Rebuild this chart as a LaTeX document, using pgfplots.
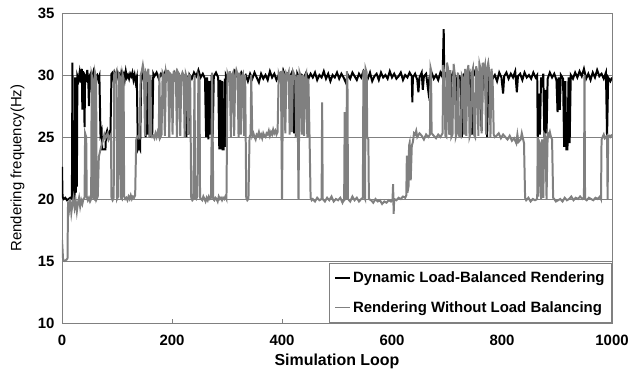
\documentclass[border=0pt]{standalone}
\usepackage{pgfplots}
\usepackage{pgfplotstable}
\pgfplotsset{compat=1.18}
\usepackage{fontspec}
\setmainfont{Liberation Sans}
\definecolor{lgray}{RGB}{128,128,128}
\definecolor{axgray}{RGB}{128,128,128}

\pgfplotstableread{
x y
0 22.6
1 20.2
3 20.0
6 20.1
9 19.9
12 20.0
15 20.1
18 20.0
19 31.0
20 20.3
22 20.0
23 20.4
24 29.8
25 20.5
26 29.5
27 21.0
28 29.9
30 29.6
32 30.2
34 29.4
36 30.5
37 27.2
38 30.3
40 29.5
41 25.8
42 29.9
44 29.7
46 30.4
48 29.2
49 27.5
50 29.9
52 30.1
54 28.6
55 29.8
57 30.2
59 29.5
61 28.2
62 29.9
64 30.0
66 29.6
68 29.9
70 25.2
72 25.5
73 24.0
79 24.0
80 25.2
82 25.5
84 25.0
86 25.3
88 25.0
90 30.1
92 30.2
94 29.6
96 30.1
98 29.7
100 30.2
102 29.8
104 30.0
106 29.5
108 30.2
110 29.9
112 30.1
114 29.6
116 30.3
118 29.8
120 30.0
122 29.7
124 30.1
126 29.9
128 30.2
130 29.6
132 30.0
134 29.4
136 29.8
138 24.0
140 24.2
142 24.0
144 29.9
146 30.1
148 29.7
150 30.2
152 25.0
154 29.8
156 25.2
158 30.0
160 25.0
162 29.6
164 25.1
166 30.1
168 29.9
172 30.2
176 29.7
180 30.1
184 29.8
188 30.3
192 29.9
196 30.0
200 29.6
204 30.2
208 29.8
212 30.1
216 29.7
220 30.0
224 29.8
226 25.0
228 29.9
230 25.2
232 30.0
236 29.7
240 30.2
244 29.9
248 30.4
252 29.8
256 30.1
260 29.7
262 25.0
264 29.8
266 24.8
268 29.5
270 25.2
272 30.0
274 25.0
276 29.9
280 30.2
284 29.8
286 24.0
288 29.6
289 24.0
291 29.5
292 24.0
294 24.0
296 29.7
297 24.2
298 30.0
302 29.6
306 30.1
310 29.8
314 30.3
318 29.9
322 29.7
326 30.2
330 29.8
334 30.0
338 29.5
342 30.1
346 29.7
350 30.2
354 29.8
358 29.4
362 30.1
366 29.7
370 30.0
374 29.6
378 30.3
382 29.8
386 30.1
390 29.6
394 30.0
398 29.7
402 30.4
406 29.9
410 30.1
414 29.8
418 30.2
420 29.9
422 25.3
424 30.0
425 25.3
427 25.5
428 30.1
432 29.7
436 30.0
440 29.8
444 30.2
448 29.7
452 30.1
456 29.8
460 30.2
464 29.6
468 30.0
472 29.8
476 30.3
480 29.7
484 30.1
488 29.5
492 30.0
496 29.8
500 30.2
504 29.7
508 30.1
512 29.8
516 29.4
520 30.0
524 29.7
528 30.2
532 29.9
536 29.6
540 30.1
544 29.8
548 30.3
552 29.9
556 29.7
560 30.2
564 29.5
568 29.9
572 30.1
576 29.6
580 30.2
584 29.8
588 30.0
592 29.7
596 30.3
600 29.8
604 30.1
608 29.7
612 29.9
616 30.2
620 29.6
624 30.0
628 29.8
632 30.2
636 29.9
637 27.8
638 29.8
642 30.1
646 29.6
648 28.6
650 29.8
654 30.2
656 28.8
658 29.9
662 30.1
666 28.7
668 29.8
672 30.2
676 29.7
680 30.0
684 29.6
688 30.2
692 29.8
694 33.7
695 29.9
698 30.1
700 29.5
702 30.2
704 29.8
706 25.2
708 29.9
712 30.3
716 29.7
718 25.3
720 30.0
724 29.8
727 25.0
729 29.9
733 30.2
737 29.6
741 30.1
745 25.2
747 29.8
751 30.3
755 29.9
759 30.1
763 25.5
765 29.7
769 30.2
773 25.0
775 29.9
779 30.1
783 29.7
787 30.0
791 29.5
795 30.2
799 29.8
802 28.5
804 29.9
808 30.2
812 29.7
816 30.1
820 29.8
824 30.3
827 28.6
829 29.9
833 30.1
837 29.6
841 30.2
845 29.8
849 30.0
853 29.7
857 30.2
861 29.8
864 30.0
865 25.0
867 28.5
869 25.2
871 29.8
873 29.0
875 30.1
877 25.0
879 28.8
881 25.3
883 29.7
887 30.2
891 29.8
895 30.1
899 29.6
901 27.0
903 29.8
905 27.2
907 30.0
911 29.7
913 24.2
915 29.5
917 24.0
919 24.0
921 29.8
923 24.5
925 30.0
929 29.7
933 30.2
937 29.8
941 30.3
945 29.9
949 30.5
953 29.7
957 30.1
961 29.6
965 30.2
969 29.8
973 30.4
977 29.9
981 30.1
985 29.7
989 30.2
991 25.0
993 29.8
997 29.5
1000 29.8
}\dynamic

\pgfplotstableread{
x y
0 16.7
2 15.1
5 15.0
8 15.1
10 15.2
11 19.8
13 19.2
15 20.0
17 18.9
19 19.6
21 20.1
23 19.3
25 19.8
27 19.0
29 19.7
31 20.1
33 19.4
35 19.9
37 19.6
39 20.0
41 20.1
42 25.3
44 25.0
45 20.2
47 19.9
49 20.1
51 19.8
53 20.0
54 30.0
56 29.6
57 20.1
59 20.0
60 30.2
62 29.8
63 20.0
65 20.2
67 23.4
69 23.8
71 24.2
73 24.5
75 24.8
77 25.2
79 24.9
81 25.1
83 25.3
85 24.8
87 25.0
89 25.2
90 20.1
92 19.9
94 20.1
95 30.1
97 29.9
99 30.2
100 20.0
102 20.2
104 30.0
106 29.8
107 20.1
109 20.0
110 30.1
112 29.7
113 20.2
115 20.0
117 20.1
119 19.9
121 20.2
123 20.0
125 20.3
127 20.0
129 20.2
131 20.1
133 20.3
135 24.8
137 25.0
139 25.1
141 25.0
143 30.0
145 30.3
147 30.8
149 30.2
151 25.1
153 30.1
155 29.8
157 30.5
159 25.0
161 30.0
162 25.2
164 25.0
166 25.1
168 24.9
170 25.3
172 25.0
174 25.4
176 25.1
177 30.1
179 25.0
181 25.2
183 30.2
185 30.0
187 25.1
189 30.3
191 29.9
193 30.4
195 25.0
197 30.1
199 30.0
201 25.2
203 30.3
205 29.8
207 30.1
209 25.0
211 30.2
213 30.0
215 25.1
217 29.9
219 30.2
221 30.0
223 25.0
225 30.1
227 29.8
229 25.2
231 30.0
233 29.9
235 20.1
237 19.9
239 20.0
241 30.0
242 20.1
244 20.0
246 20.2
248 29.9
250 29.6
251 20.1
253 20.0
255 19.9
257 20.2
259 20.0
261 19.8
263 20.1
265 19.9
267 20.2
269 20.0
271 20.1
273 30.2
275 20.0
277 19.9
279 20.1
281 20.0
283 19.8
285 20.2
287 20.0
289 20.1
291 19.9
293 20.1
295 20.0
297 20.2
299 20.0
301 30.1
303 29.8
305 30.3
307 25.0
309 30.0
311 30.2
313 25.1
315 29.9
317 30.4
319 30.1
321 25.0
323 30.2
325 25.2
327 29.9
329 30.1
331 25.1
333 30.0
335 20.1
337 19.9
339 20.0
341 25.0
343 25.2
344 30.0
346 25.1
348 25.3
350 25.0
352 24.8
354 25.2
356 25.1
358 25.4
360 25.0
362 25.2
364 24.9
366 25.3
368 25.1
370 25.0
372 25.3
374 25.2
376 25.5
378 25.1
380 25.4
382 25.2
384 25.6
386 25.3
388 25.5
390 25.2
392 25.4
394 30.1
396 29.8
398 30.3
400 20.0
402 30.2
404 30.0
406 25.3
408 30.1
410 29.9
412 30.2
414 25.2
416 30.0
418 25.4
420 30.3
422 30.1
424 29.8
426 25.0
428 30.0
430 20.0
432 30.2
434 29.9
436 25.2
438 30.0
440 25.1
442 29.8
444 30.1
446 25.0
448 29.7
450 25.2
452 20.1
454 19.9
456 20.0
460 19.8
464 20.1
468 19.9
472 20.0
473 27.8
474 20.0
478 19.8
482 20.1
486 19.9
490 20.2
494 19.8
498 20.0
502 19.9
506 20.1
510 19.7
513 20.0
514 27.0
515 20.0
517 20.1
518 30.3
519 29.8
520 20.0
524 19.8
528 20.2
532 19.9
536 20.1
540 19.8
544 20.0
547 20.1
548 30.4
549 20.2
551 20.0
552 30.5
554 30.2
555 25.0
557 24.8
558 20.0
562 19.9
566 19.7
570 20.0
574 19.8
578 19.9
582 19.6
586 19.8
590 19.7
594 19.9
598 19.8
601 20.0
602 21.2
603 18.8
604 20.0
608 19.9
612 20.1
616 20.0
620 20.2
624 20.1
626 20.3
627 23.5
628 20.5
630 21.0
631 24.3
632 24.5
634 21.5
636 24.3
638 24.6
640 25.3
642 25.2
644 25.5
646 25.0
650 25.3
654 25.1
658 24.8
662 25.2
666 25.0
669 25.2
670 30.6
671 30.4
672 25.3
676 25.1
680 24.9
684 25.2
688 25.0
692 25.3
693 30.8
695 30.2
697 25.1
699 25.0
700 31.0
702 30.5
704 25.2
706 30.4
708 25.0
710 25.2
712 30.9
714 30.1
716 25.0
718 25.3
720 30.2
722 25.1
725 25.0
727 30.0
729 29.8
731 25.2
733 30.5
735 25.1
737 30.3
739 30.8
741 25.0
743 25.3
745 30.1
747 30.5
749 25.2
751 25.0
753 30.7
755 30.2
757 25.1
759 30.9
761 30.5
763 25.3
765 31.0
767 30.4
769 30.8
771 25.2
773 30.6
775 31.0
777 30.2
779 25.0
781 30.5
783 29.5
785 25.2
787 25.0
790 25.1
794 25.3
798 24.9
802 25.2
806 25.0
810 24.8
814 25.1
818 24.7
822 24.9
826 24.5
828 25.2
830 24.6
834 24.8
836 25.3
838 24.9
840 24.5
842 20.1
844 19.9
848 20.1
852 19.8
856 20.0
860 19.9
864 20.0
865 25.0
866 20.2
868 24.6
870 24.4
871 20.0
873 24.8
875 20.1
877 25.2
879 25.0
881 20.0
883 25.3
885 25.1
887 25.4
889 25.0
891 24.8
893 20.1
895 20.0
898 19.8
902 19.9
906 20.0
910 19.8
914 20.1
918 19.9
922 20.0
926 20.2
930 19.9
934 20.1
938 20.0
942 20.2
946 20.0
949 20.1
950 30.0
951 20.0
954 19.9
958 20.1
962 20.0
966 19.9
970 20.1
974 20.0
978 20.2
980 20.0
981 24.8
983 25.0
985 25.2
987 24.9
989 25.0
991 25.1
992 20.0
993 25.0
995 25.1
997 25.0
1000 25.2
}\nobalance

\begin{document}
\begin{tikzpicture}
\begin{axis}[
  at={(0,0)}, anchor=south west,
  scale only axis,
  width=550bp, height=310bp,
  xmin=0, xmax=1000, ymin=10, ymax=35,
  xtick={0,200,...,1000},
  ytick={10,15,...,35},
  ymajorgrids,
  grid style={axgray, line width=0.8pt},
  axis line style={axgray, line width=0.8pt},
  xtick pos=bottom, ytick pos=left,
  tick align=inside,
  major tick length=4bp,
  xtick style={axgray, line width=0.8pt},
  ytick style={draw=none},
  /pgf/number format/assume math mode=true,
  /pgf/number format/1000 sep={},
  ticklabel style={font=\bfseries\fontsize{15}{18}\selectfont},
  xticklabel style={yshift=-9bp},
  yticklabel style={xshift=-4bp},
  xlabel={\textbf{Simulation Loop}},
  ylabel={Rendering frequency(Hz)},
  every axis x label/.style={at={(axis description cs:0.5,-0.09)}, anchor=north, font=\fontsize{16}{19}\selectfont},
  every axis y label/.style={at={(axis description cs:-0.062,0.5)}, rotate=90, anchor=south, font=\fontsize{15}{18}\selectfont},
  legend style={at={(1,0)}, anchor=south east, draw=axgray, line width=0.8pt, fill=white,
    font=\bfseries\fontsize{15}{18}\selectfont, row sep=13bp, inner xsep=5bp, inner ysep=7bp},
  legend cell align=left,
  legend image code/.code={\draw[#1, line width=1.5pt] (0bp,0bp) -- (15bp,0bp);},
]
\addplot[black, line width=2pt] table[x=x,y=y] {\dynamic};
\addlegendentry{Dynamic Load-Balanced Rendering\hspace{12bp}}
\addplot[lgray, line width=2pt] table[x=x,y=y] {\nobalance};
\addlegendentry{Rendering Without Load Balancing\hspace{12bp}}
\end{axis}
\pgfresetboundingbox
\path (-62bp,-57bp) rectangle (579bp,323bp);
\end{tikzpicture}
\end{document}
